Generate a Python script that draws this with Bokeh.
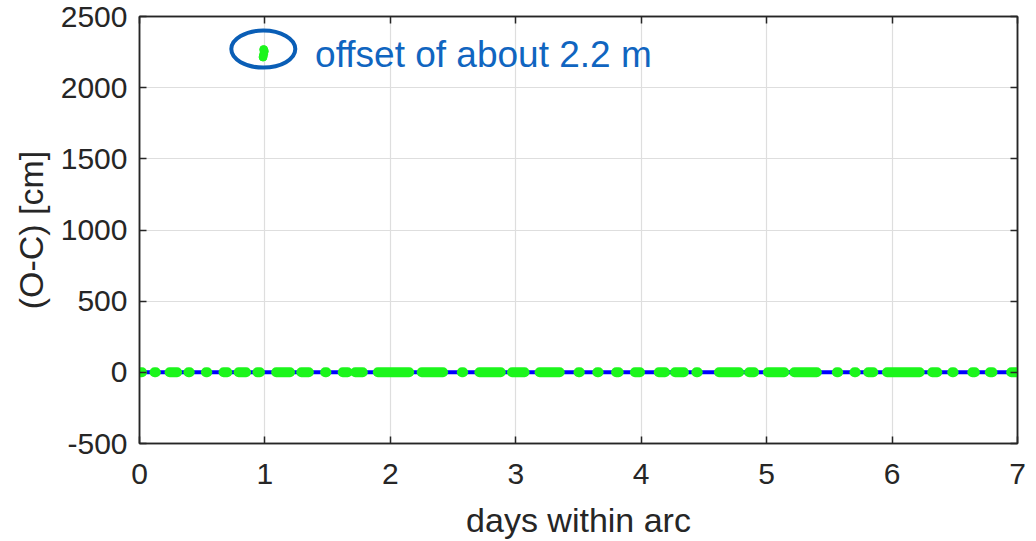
from bokeh.plotting import figure
from bokeh.models import LinearAxis, Range1d, FixedTicker, Label
from bokeh.embed import file_html
from bokeh.resources import INLINE

# Residuals (O-C) over a 7-day arc.
# Each tracking pass is given by its start/end time (days); residuals are ~0 cm.
pass_start = [0.00, 0.12, 0.24, 0.39, 0.53, 0.67, 0.79, 0.94, 1.09, 1.29, 1.48, 1.62,
              1.72, 1.90, 2.25, 2.57, 2.71, 2.97, 3.19, 3.50, 3.65, 3.80, 3.95, 4.14,
              4.27, 4.44, 4.62, 4.86, 5.01, 5.22, 5.56, 5.70, 5.81, 5.96, 6.32, 6.48,
              6.64, 6.78, 6.95]
pass_end = [0.02, 0.13, 0.30, 0.40, 0.54, 0.70, 0.85, 0.96, 1.20, 1.35, 1.49, 1.66,
            1.78, 2.15, 2.42, 2.58, 2.88, 3.07, 3.35, 3.51, 3.66, 3.82, 3.99, 4.19,
            4.34, 4.45, 4.78, 4.90, 5.14, 5.40, 5.57, 5.71, 5.85, 6.22, 6.36, 6.49,
            6.66, 6.80, 7.00]
pass_resid = [0.0] * len(pass_start)

# Outlying normal points near day 1 (offset of about 2.2 m)
out_days = [0.985, 0.990, 0.995, 0.990]
out_resid = [2215.0, 2235.0, 2255.0, 2268.0]

# Zero-residual reference line over the arc
ref_days = [0.0, 7.0]
ref_resid = [0.0, 0.0]

x_ticks = [0, 1, 2, 3, 4, 5, 6, 7]
y_ticks = [-500, 0, 500, 1000, 1500, 2000, 2500]
y_tick_text = ["-500", "0", "500", "1000", "1500", "2000", "2500"]

FONT = "Liberation Sans"
DARK = "#262626"
GREEN = "#1cf51c"

p = figure(width=1036, height=541, output_backend="svg", toolbar_location=None,
           x_range=Range1d(0, 7), y_range=Range1d(-500, 2500),
           min_border_left=139, min_border_right=19, min_border_top=16,
           min_border_bottom=98, x_axis_location=None, y_axis_location=None)
p.background_fill_color = "white"
p.border_fill_color = "white"
p.outline_line_color = DARK
p.outline_line_width = 1.5

def style_axis(ax, ticks, labels=True):
    ax.ticker = FixedTicker(ticks=ticks)
    ax.axis_line_color = DARK
    ax.axis_line_width = 1.5
    ax.major_tick_line_color = DARK
    ax.major_tick_line_width = 1.5
    ax.major_tick_in = 7
    ax.major_tick_out = 0
    ax.minor_tick_line_color = None
    ax.major_label_text_font = FONT
    ax.major_label_text_font_size = "30px"
    ax.major_label_text_color = DARK
    ax.axis_label_text_font = FONT
    ax.axis_label_text_font_size = "34px"
    ax.axis_label_text_font_style = "normal"
    ax.axis_label_text_color = DARK
    if not labels:
        ax.major_label_overrides = {t: "" for t in ticks}
        ax.major_label_standoff = 0

xb = LinearAxis(axis_label="days within arc")
style_axis(xb, x_ticks)
xb.major_label_standoff = 20
xb.axis_label_standoff = 14
p.add_layout(xb, "below")

yl = LinearAxis(axis_label="(O-C) [cm]")
style_axis(yl, y_ticks)
yl.major_label_overrides = dict(zip(y_ticks, y_tick_text))
yl.major_label_standoff = 12
yl.axis_label_standoff = 8
p.add_layout(yl, "left")

xt = LinearAxis()
style_axis(xt, x_ticks, labels=False)
p.add_layout(xt, "above")

yr = LinearAxis()
style_axis(yr, y_ticks, labels=False)
p.add_layout(yr, "right")

p.xgrid.ticker = FixedTicker(ticks=x_ticks)
p.ygrid.ticker = FixedTicker(ticks=y_ticks)
p.xgrid.grid_line_color = "#dedede"
p.ygrid.grid_line_color = "#dedede"
p.xgrid.grid_line_width = 1.2
p.ygrid.grid_line_width = 1.2

# zero line, then the passes on top
p.line(ref_days, ref_resid, line_color="#0000ff", line_width=4)
p.segment(x0=pass_start, y0=pass_resid, x1=pass_end, y1=pass_resid,
          line_color=GREEN, line_width=10, line_cap="round")
p.scatter(out_days, out_resid, size=8, marker="circle",
          fill_color=GREEN, line_color=GREEN)

# annotation: circled outliers with note
p.ellipse(x=[0.987], y=[2271], width=64, height=37,
          width_units="screen", height_units="screen",
          fill_color=None, line_color="#0a5eb6", line_width=4)
p.add_layout(Label(x=1.40, y=2232, text="offset of about 2.2 m",
                   text_font=FONT, text_font_size="37px",
                   text_color="#1065c0", text_baseline="middle"))

open("out.html", "w").write(file_html(p, INLINE))
